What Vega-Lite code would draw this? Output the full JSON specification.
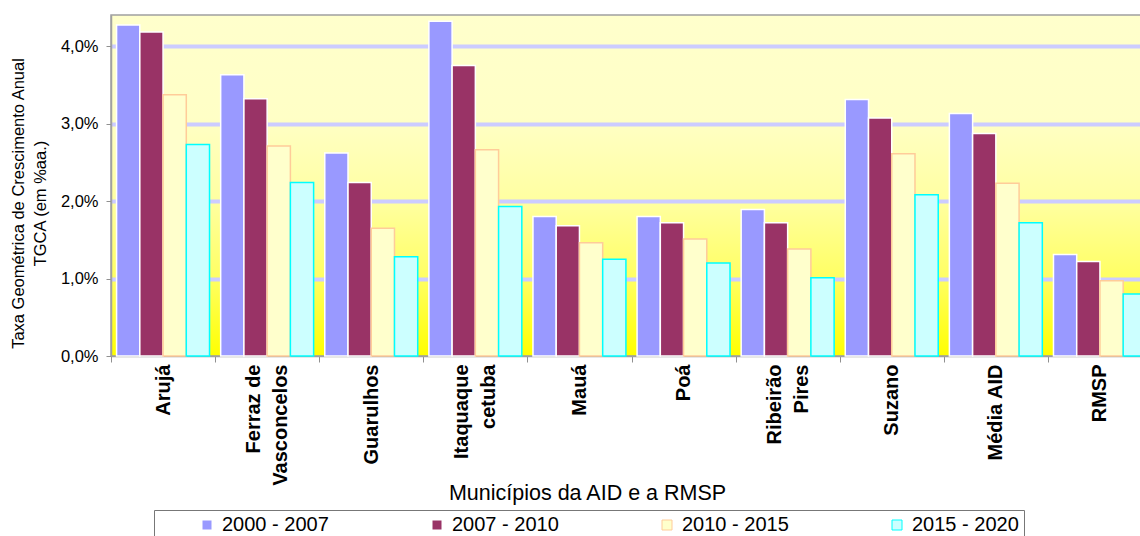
{
  "$schema": "https://vega.github.io/schema/vega-lite/v6.json",
  "width": 1041,
  "height": 341,
  "autosize": "none",
  "padding": {"left": 111, "top": 15, "right": -12, "bottom": 180},
  "background": "white",
  "view": {
    "stroke": "#a0a0a0",
    "strokeWidth": 1.5,
    "fill": {
      "gradient": "linear", "x1": 0, "y1": 0, "x2": 0, "y2": 1,
      "stops": [
        {"offset": 0, "color": "#FFFFCC"},
        {"offset": 0.3, "color": "#FFFFC6"},
        {"offset": 0.55, "color": "#FFFFA0"},
        {"offset": 0.78, "color": "#FFFF60"},
        {"offset": 1, "color": "#FFFF00"}
      ]
    }
  },
  "config": {"font": "Liberation Sans"},
  "data": {
    "values": [
      {"municipio": "Arujá", "periodo": "2000 - 2007", "tgca": 4.27},
      {"municipio": "Arujá", "periodo": "2007 - 2010", "tgca": 4.18},
      {"municipio": "Arujá", "periodo": "2010 - 2015", "tgca": 3.37},
      {"municipio": "Arujá", "periodo": "2015 - 2020", "tgca": 2.73},
      {"municipio": "Ferraz de Vasconcelos", "periodo": "2000 - 2007", "tgca": 3.63},
      {"municipio": "Ferraz de Vasconcelos", "periodo": "2007 - 2010", "tgca": 3.32},
      {"municipio": "Ferraz de Vasconcelos", "periodo": "2010 - 2015", "tgca": 2.71},
      {"municipio": "Ferraz de Vasconcelos", "periodo": "2015 - 2020", "tgca": 2.24},
      {"municipio": "Guarulhos", "periodo": "2000 - 2007", "tgca": 2.62},
      {"municipio": "Guarulhos", "periodo": "2007 - 2010", "tgca": 2.24},
      {"municipio": "Guarulhos", "periodo": "2010 - 2015", "tgca": 1.65},
      {"municipio": "Guarulhos", "periodo": "2015 - 2020", "tgca": 1.28},
      {"municipio": "Itaquaquecetuba", "periodo": "2000 - 2007", "tgca": 4.32},
      {"municipio": "Itaquaquecetuba", "periodo": "2007 - 2010", "tgca": 3.75},
      {"municipio": "Itaquaquecetuba", "periodo": "2010 - 2015", "tgca": 2.66},
      {"municipio": "Itaquaquecetuba", "periodo": "2015 - 2020", "tgca": 1.93},
      {"municipio": "Mauá", "periodo": "2000 - 2007", "tgca": 1.80},
      {"municipio": "Mauá", "periodo": "2007 - 2010", "tgca": 1.68},
      {"municipio": "Mauá", "periodo": "2010 - 2015", "tgca": 1.46},
      {"municipio": "Mauá", "periodo": "2015 - 2020", "tgca": 1.25},
      {"municipio": "Poá", "periodo": "2000 - 2007", "tgca": 1.80},
      {"municipio": "Poá", "periodo": "2007 - 2010", "tgca": 1.72},
      {"municipio": "Poá", "periodo": "2010 - 2015", "tgca": 1.51},
      {"municipio": "Poá", "periodo": "2015 - 2020", "tgca": 1.20},
      {"municipio": "Ribeirão Pires", "periodo": "2000 - 2007", "tgca": 1.89},
      {"municipio": "Ribeirão Pires", "periodo": "2007 - 2010", "tgca": 1.72},
      {"municipio": "Ribeirão Pires", "periodo": "2010 - 2015", "tgca": 1.38},
      {"municipio": "Ribeirão Pires", "periodo": "2015 - 2020", "tgca": 1.01},
      {"municipio": "Suzano", "periodo": "2000 - 2007", "tgca": 3.31},
      {"municipio": "Suzano", "periodo": "2007 - 2010", "tgca": 3.07},
      {"municipio": "Suzano", "periodo": "2010 - 2015", "tgca": 2.61},
      {"municipio": "Suzano", "periodo": "2015 - 2020", "tgca": 2.08},
      {"municipio": "Média AID", "periodo": "2000 - 2007", "tgca": 3.13},
      {"municipio": "Média AID", "periodo": "2007 - 2010", "tgca": 2.87},
      {"municipio": "Média AID", "periodo": "2010 - 2015", "tgca": 2.23},
      {"municipio": "Média AID", "periodo": "2015 - 2020", "tgca": 1.72},
      {"municipio": "RMSP", "periodo": "2000 - 2007", "tgca": 1.31},
      {"municipio": "RMSP", "periodo": "2007 - 2010", "tgca": 1.22},
      {"municipio": "RMSP", "periodo": "2010 - 2015", "tgca": 0.97},
      {"municipio": "RMSP", "periodo": "2015 - 2020", "tgca": 0.80}
    ]
  },
  "mark": {"type": "bar", "strokeWidth": 1.5},
  "encoding": {
    "x": {
      "field": "municipio",
      "type": "nominal",
      "sort": null,
      "scale": {"paddingInner": 0, "paddingOuter": 0},
      "axis": {
        "title": "Municípios da AID e a RMSP",
        "titleFontSize": 21.5,
        "titleFontWeight": "normal",
        "titleColor": "black",
        "titleX": 476,
        "titleY": 143,
        "titleBaseline": "alphabetic",
        "titleAlign": "center",
        "labelAngle": 270,
        "labelAlign": "right",
        "labelBaseline": "middle",
        "labelFontSize": 20,
        "labelFontWeight": "bold",
        "labelColor": "black",
        "labelPadding": 2,
        "labelLineHeight": 27,
        "labelLimit": 0,
        "labelOffset": {"condition": {"test": "indexof(['Ferraz de Vasconcelos', 'Itaquaquecetuba', 'Ribeirão Pires'], datum.value) >= 0", "value": -13.5}, "value": 0},
        "labelExpr": "datum.value == 'Ferraz de Vasconcelos' ? ['Ferraz de', 'Vasconcelos'] : datum.value == 'Itaquaquecetuba' ? ['Itaquaque', 'cetuba'] : datum.value == 'Ribeirão Pires' ? ['Ribeirão', 'Pires'] : datum.label",
        "tickSize": 6,
        "tickBand": "extent",
        "tickColor": "#909090",
        "domainColor": "#a0a0a0",
        "domainWidth": 1.5
      }
    },
    "xOffset": {
      "field": "periodo",
      "type": "nominal",
      "sort": null,
      "scale": {"paddingInner": 0, "paddingOuter": 0.24}
    },
    "y": {
      "field": "tgca",
      "type": "quantitative",
      "scale": {"domain": [0, 4.4], "nice": false},
      "axis": {
        "values": [0, 1, 2, 3, 4],
        "labelExpr": "replace(format(datum.value, '.1f'), '.', ',') + '%'",
        "labelFontSize": 16.5,
        "labelColor": "black",
        "labelPadding": 8,
        "tickSize": 5,
        "tickColor": "#909090",
        "domainColor": "#a0a0a0",
        "domainWidth": 1.5,
        "gridColor": "#CCCCFF",
        "gridWidth": 4,
        "gridOpacity": {"condition": {"test": "datum.value == 0", "value": 0}, "value": 1},
        "title": ["Taxa Geométrica de Crescimento Anual", "TGCA (em %aa.)"],
        "titleFontSize": 16.5,
        "titleFontWeight": "normal",
        "titleColor": "black",
        "titleLineHeight": 22,
        "titleX": -101,
        "titleY": 188,
        "titleBaseline": "top",
        "titleAlign": "center",
        "titleAngle": 270
      }
    },
    "fill": {
      "field": "periodo",
      "type": "nominal",
      "sort": null,
      "scale": {
        "domain": ["2000 - 2007", "2007 - 2010", "2010 - 2015", "2015 - 2020"],
        "range": ["#9999FF", "#993366", "#FFFFCC", "#CCFFFF"]
      },
      "legend": {
        "orient": "none",
        "legendX": 43,
        "legendY": 495,
        "direction": "horizontal",
        "columns": 4,
        "title": "\u00a0",
        "titleOrient": "left",
        "titlePadding": 38,
        "titleFontSize": 20,
        "padding": 5,
        "strokeColor": "#777777",
        "fillColor": "white",
        "symbolType": "square",
        "symbolSize": 100,
        "symbolStrokeWidth": 1,
        "labelFontSize": 20,
        "labelColor": "black",
        "labelOffset": 5,
        "columnPadding": 98,
        "gridAlign": "all"
      }
    },
    "stroke": {
      "field": "periodo",
      "type": "nominal",
      "sort": null,
      "scale": {
        "domain": ["2000 - 2007", "2007 - 2010", "2010 - 2015", "2015 - 2020"],
        "range": ["#FFFFFF", "#FFFFFF", "#FFCC99", "#00FFFF"]
      },
      "legend": {
        "orient": "none",
        "legendX": 43,
        "legendY": 495,
        "direction": "horizontal",
        "columns": 4,
        "title": "\u00a0",
        "titleOrient": "left",
        "titlePadding": 38,
        "titleFontSize": 20,
        "padding": 5,
        "strokeColor": "#777777",
        "fillColor": "white",
        "symbolType": "square",
        "symbolSize": 100,
        "symbolStrokeWidth": 1,
        "labelFontSize": 20,
        "labelColor": "black",
        "labelOffset": 5,
        "columnPadding": 98,
        "gridAlign": "all"
      }
    }
  }
}
